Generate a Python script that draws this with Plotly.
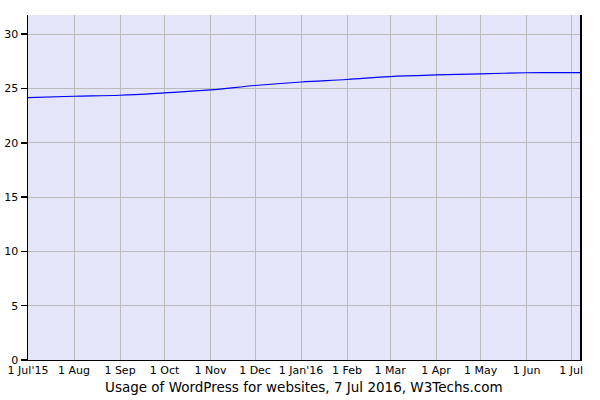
import plotly.graph_objects as go

dates = ["2015-07-01", "2015-08-01", "2015-09-01", "2015-10-01", "2015-11-01",
         "2015-12-01", "2016-01-01", "2016-02-01", "2016-03-01", "2016-04-01",
         "2016-05-01", "2016-06-01", "2016-07-01", "2016-07-07"]
usage = [24.17, 24.29, 24.38, 24.6, 24.87, 25.28, 25.6, 25.83, 26.1, 26.25,
         26.35, 26.45, 26.47, 26.47]

tick_vals = ["2015-07-01", "2015-08-01", "2015-09-01", "2015-10-01", "2015-11-01",
             "2015-12-01", "2016-01-01", "2016-02-01", "2016-03-01", "2016-04-01",
             "2016-05-01", "2016-06-01", "2016-07-01"]
tick_text = ["1 Jul'15", "1 Aug", "1 Sep", "1 Oct", "1 Nov", "1 Dec", "1 Jan'16",
             "1 Feb", "1 Mar", "1 Apr", "1 May", "1 Jun", "1 Jul"]
y_ticks = [0, 5, 10, 15, 20, 25, 30]
title_text = "Usage of WordPress for websites, 7 Jul 2016, W3Techs.com"

fig = go.Figure()
fig.add_trace(go.Scatter(x=dates, y=usage, mode="lines",
                         line=dict(color="#0000FF", width=1.2, shape="spline"),
                         hoverinfo="skip"))

fig.update_layout(
    width=600, height=400,
    margin=dict(l=28, r=20, t=15, b=40),
    paper_bgcolor="white",
    plot_bgcolor="#E5E5F9",
    showlegend=False,
    font=dict(family="DejaVu Sans, Verdana, sans-serif", size=11, color="black"),
    xaxis=dict(
        type="date",
        range=["2015-07-01", "2016-07-07"],
        tickvals=tick_vals, ticktext=tick_text,
        showgrid=True, gridcolor="#BBBBBB", gridwidth=1,
        showline=True, linecolor="black", linewidth=1,
        ticks="", tickfont=dict(size=11),
        zeroline=False, automargin=False,
    ),
    yaxis=dict(
        range=[0, 31.77],
        tickvals=y_ticks,
        showgrid=True, gridcolor="#BBBBBB", gridwidth=1,
        showline=True, linecolor="black", linewidth=1.5, mirror=True,
        ticks="outside", ticklen=6, tickcolor="black", tickwidth=1.5,
        tickfont=dict(size=11),
        zeroline=False, automargin=False,
    ),
    annotations=[dict(text=title_text, xref="paper", yref="paper",
                      x=0.5, y=0, yshift=-27, xanchor="center", yanchor="middle",
                      showarrow=False,
                      font=dict(size=13.5, family="DejaVu Sans, Verdana, sans-serif"))],
)

fig.write_html("out.html",
               config={"displayModeBar": False, "staticPlot": True},
               post_script="document.body.style.margin='0';document.body.style.overflow='hidden';")
